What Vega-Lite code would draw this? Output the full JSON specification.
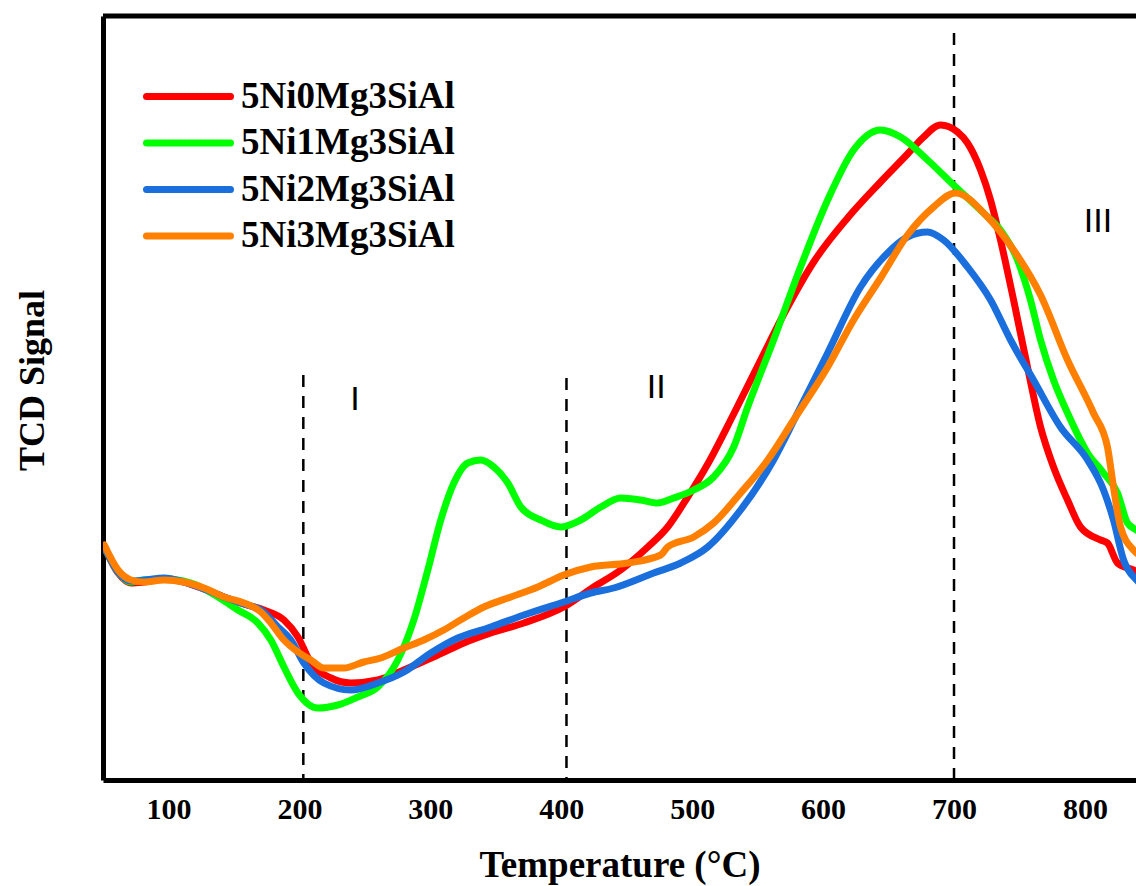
{
  "$schema": "https://vega.github.io/schema/vega-lite/v6.json",
  "width": 1033,
  "height": 764,
  "autosize": {"type": "none"},
  "padding": {"left": 103, "top": 16, "right": 0, "bottom": 106},
  "background": "white",
  "config": {"view": {"stroke": null}, "axis": {"grid": false}},
  "datasets": {
    "tpr": [
      {"sample": "5Ni0Mg3SiAl", "temperature": 51, "signal": 233},
      {"sample": "5Ni0Mg3SiAl", "temperature": 61.5, "signal": 207},
      {"sample": "5Ni0Mg3SiAl", "temperature": 71.4, "signal": 197},
      {"sample": "5Ni0Mg3SiAl", "temperature": 81.3, "signal": 198},
      {"sample": "5Ni0Mg3SiAl", "temperature": 96.6, "signal": 201},
      {"sample": "5Ni0Mg3SiAl", "temperature": 111.8, "signal": 198},
      {"sample": "5Ni0Mg3SiAl", "temperature": 127.1, "signal": 191},
      {"sample": "5Ni0Mg3SiAl", "temperature": 142.4, "signal": 183},
      {"sample": "5Ni0Mg3SiAl", "temperature": 157.6, "signal": 176},
      {"sample": "5Ni0Mg3SiAl", "temperature": 172.9, "signal": 170},
      {"sample": "5Ni0Mg3SiAl", "temperature": 188.2, "signal": 160},
      {"sample": "5Ni0Mg3SiAl", "temperature": 198.9, "signal": 143},
      {"sample": "5Ni0Mg3SiAl", "temperature": 208.8, "signal": 117},
      {"sample": "5Ni0Mg3SiAl", "temperature": 224.1, "signal": 102},
      {"sample": "5Ni0Mg3SiAl", "temperature": 239.3, "signal": 97},
      {"sample": "5Ni0Mg3SiAl", "temperature": 259.9, "signal": 100},
      {"sample": "5Ni0Mg3SiAl", "temperature": 279.8, "signal": 110},
      {"sample": "5Ni0Mg3SiAl", "temperature": 305.7, "signal": 125},
      {"sample": "5Ni0Mg3SiAl", "temperature": 325.6, "signal": 137},
      {"sample": "5Ni0Mg3SiAl", "temperature": 346.2, "signal": 147},
      {"sample": "5Ni0Mg3SiAl", "temperature": 371.4, "signal": 157},
      {"sample": "5Ni0Mg3SiAl", "temperature": 401.9, "signal": 173},
      {"sample": "5Ni0Mg3SiAl", "temperature": 424.8, "signal": 193},
      {"sample": "5Ni0Mg3SiAl", "temperature": 445.4, "signal": 210},
      {"sample": "5Ni0Mg3SiAl", "temperature": 466.1, "signal": 233},
      {"sample": "5Ni0Mg3SiAl", "temperature": 481.3, "signal": 253},
      {"sample": "5Ni0Mg3SiAl", "temperature": 496.6, "signal": 283},
      {"sample": "5Ni0Mg3SiAl", "temperature": 511.9, "signal": 316},
      {"sample": "5Ni0Mg3SiAl", "temperature": 531.7, "signal": 366},
      {"sample": "5Ni0Mg3SiAl", "temperature": 552.3, "signal": 420},
      {"sample": "5Ni0Mg3SiAl", "temperature": 572.9, "signal": 473},
      {"sample": "5Ni0Mg3SiAl", "temperature": 592.8, "signal": 518},
      {"sample": "5Ni0Mg3SiAl", "temperature": 618.7, "signal": 562},
      {"sample": "5Ni0Mg3SiAl", "temperature": 643.9, "signal": 598},
      {"sample": "5Ni0Mg3SiAl", "temperature": 664.5, "signal": 626},
      {"sample": "5Ni0Mg3SiAl", "temperature": 676, "signal": 642},
      {"sample": "5Ni0Mg3SiAl", "temperature": 689.7, "signal": 655},
      {"sample": "5Ni0Mg3SiAl", "temperature": 702.7, "signal": 648},
      {"sample": "5Ni0Mg3SiAl", "temperature": 710.3, "signal": 637},
      {"sample": "5Ni0Mg3SiAl", "temperature": 720.3, "signal": 610},
      {"sample": "5Ni0Mg3SiAl", "temperature": 727.9, "signal": 580},
      {"sample": "5Ni0Mg3SiAl", "temperature": 735.5, "signal": 540},
      {"sample": "5Ni0Mg3SiAl", "temperature": 745.5, "signal": 480},
      {"sample": "5Ni0Mg3SiAl", "temperature": 756.1, "signal": 413},
      {"sample": "5Ni0Mg3SiAl", "temperature": 766.1, "signal": 353},
      {"sample": "5Ni0Mg3SiAl", "temperature": 776, "signal": 313},
      {"sample": "5Ni0Mg3SiAl", "temperature": 786.7, "signal": 280},
      {"sample": "5Ni0Mg3SiAl", "temperature": 796.6, "signal": 253},
      {"sample": "5Ni0Mg3SiAl", "temperature": 811.9, "signal": 240},
      {"sample": "5Ni0Mg3SiAl", "temperature": 817.2, "signal": 237},
      {"sample": "5Ni0Mg3SiAl", "temperature": 824.9, "signal": 217},
      {"sample": "5Ni0Mg3SiAl", "temperature": 837.1, "signal": 210},
      {"sample": "5Ni0Mg3SiAl", "temperature": 845, "signal": 205},

      {"sample": "5Ni1Mg3SiAl", "temperature": 51, "signal": 233},
      {"sample": "5Ni1Mg3SiAl", "temperature": 61.5, "signal": 208},
      {"sample": "5Ni1Mg3SiAl", "temperature": 71.4, "signal": 198},
      {"sample": "5Ni1Mg3SiAl", "temperature": 81.3, "signal": 200},
      {"sample": "5Ni1Mg3SiAl", "temperature": 96.6, "signal": 201},
      {"sample": "5Ni1Mg3SiAl", "temperature": 117.2, "signal": 197},
      {"sample": "5Ni1Mg3SiAl", "temperature": 137.8, "signal": 183},
      {"sample": "5Ni1Mg3SiAl", "temperature": 153.1, "signal": 170},
      {"sample": "5Ni1Mg3SiAl", "temperature": 168.3, "signal": 157},
      {"sample": "5Ni1Mg3SiAl", "temperature": 178.2, "signal": 140},
      {"sample": "5Ni1Mg3SiAl", "temperature": 188.2, "signal": 113},
      {"sample": "5Ni1Mg3SiAl", "temperature": 198.9, "signal": 87},
      {"sample": "5Ni1Mg3SiAl", "temperature": 214.1, "signal": 72},
      {"sample": "5Ni1Mg3SiAl", "temperature": 229.4, "signal": 75},
      {"sample": "5Ni1Mg3SiAl", "temperature": 244.7, "signal": 83},
      {"sample": "5Ni1Mg3SiAl", "temperature": 259.9, "signal": 93},
      {"sample": "5Ni1Mg3SiAl", "temperature": 275.2, "signal": 120},
      {"sample": "5Ni1Mg3SiAl", "temperature": 287.4, "signal": 160},
      {"sample": "5Ni1Mg3SiAl", "temperature": 298.1, "signal": 210},
      {"sample": "5Ni1Mg3SiAl", "temperature": 308, "signal": 260},
      {"sample": "5Ni1Mg3SiAl", "temperature": 318, "signal": 297},
      {"sample": "5Ni1Mg3SiAl", "temperature": 328.6, "signal": 317},
      {"sample": "5Ni1Mg3SiAl", "temperature": 338.6, "signal": 320},
      {"sample": "5Ni1Mg3SiAl", "temperature": 348.5, "signal": 313},
      {"sample": "5Ni1Mg3SiAl", "temperature": 359.2, "signal": 297},
      {"sample": "5Ni1Mg3SiAl", "temperature": 369.1, "signal": 273},
      {"sample": "5Ni1Mg3SiAl", "temperature": 384.4, "signal": 260},
      {"sample": "5Ni1Mg3SiAl", "temperature": 399.6, "signal": 253},
      {"sample": "5Ni1Mg3SiAl", "temperature": 414.9, "signal": 260},
      {"sample": "5Ni1Mg3SiAl", "temperature": 430.2, "signal": 273},
      {"sample": "5Ni1Mg3SiAl", "temperature": 445.4, "signal": 282},
      {"sample": "5Ni1Mg3SiAl", "temperature": 460.7, "signal": 280},
      {"sample": "5Ni1Mg3SiAl", "temperature": 473.7, "signal": 277},
      {"sample": "5Ni1Mg3SiAl", "temperature": 485.9, "signal": 282},
      {"sample": "5Ni1Mg3SiAl", "temperature": 501.2, "signal": 290},
      {"sample": "5Ni1Mg3SiAl", "temperature": 516.4, "signal": 303},
      {"sample": "5Ni1Mg3SiAl", "temperature": 531.7, "signal": 333},
      {"sample": "5Ni1Mg3SiAl", "temperature": 542.4, "signal": 373},
      {"sample": "5Ni1Mg3SiAl", "temperature": 562.2, "signal": 440},
      {"sample": "5Ni1Mg3SiAl", "temperature": 582.8, "signal": 513},
      {"sample": "5Ni1Mg3SiAl", "temperature": 603.5, "signal": 580},
      {"sample": "5Ni1Mg3SiAl", "temperature": 623.3, "signal": 630},
      {"sample": "5Ni1Mg3SiAl", "temperature": 643.9, "signal": 650},
      {"sample": "5Ni1Mg3SiAl", "temperature": 659.2, "signal": 643},
      {"sample": "5Ni1Mg3SiAl", "temperature": 679.8, "signal": 620},
      {"sample": "5Ni1Mg3SiAl", "temperature": 699.7, "signal": 595},
      {"sample": "5Ni1Mg3SiAl", "temperature": 722.5, "signal": 567},
      {"sample": "5Ni1Mg3SiAl", "temperature": 735.5, "signal": 550},
      {"sample": "5Ni1Mg3SiAl", "temperature": 748.5, "signal": 520},
      {"sample": "5Ni1Mg3SiAl", "temperature": 758.4, "signal": 480},
      {"sample": "5Ni1Mg3SiAl", "temperature": 766.1, "signal": 440},
      {"sample": "5Ni1Mg3SiAl", "temperature": 776, "signal": 400},
      {"sample": "5Ni1Mg3SiAl", "temperature": 786.7, "signal": 367},
      {"sample": "5Ni1Mg3SiAl", "temperature": 802, "signal": 327},
      {"sample": "5Ni1Mg3SiAl", "temperature": 814.2, "signal": 307},
      {"sample": "5Ni1Mg3SiAl", "temperature": 824.9, "signal": 287},
      {"sample": "5Ni1Mg3SiAl", "temperature": 832.5, "signal": 257},
      {"sample": "5Ni1Mg3SiAl", "temperature": 839.4, "signal": 250},
      {"sample": "5Ni1Mg3SiAl", "temperature": 845, "signal": 246},

      {"sample": "5Ni2Mg3SiAl", "temperature": 51, "signal": 233},
      {"sample": "5Ni2Mg3SiAl", "temperature": 61.5, "signal": 208},
      {"sample": "5Ni2Mg3SiAl", "temperature": 71.4, "signal": 199},
      {"sample": "5Ni2Mg3SiAl", "temperature": 81.3, "signal": 200},
      {"sample": "5Ni2Mg3SiAl", "temperature": 96.6, "signal": 202},
      {"sample": "5Ni2Mg3SiAl", "temperature": 111.8, "signal": 198},
      {"sample": "5Ni2Mg3SiAl", "temperature": 127.1, "signal": 191},
      {"sample": "5Ni2Mg3SiAl", "temperature": 142.4, "signal": 183},
      {"sample": "5Ni2Mg3SiAl", "temperature": 157.6, "signal": 176},
      {"sample": "5Ni2Mg3SiAl", "temperature": 170.6, "signal": 170},
      {"sample": "5Ni2Mg3SiAl", "temperature": 183.6, "signal": 153},
      {"sample": "5Ni2Mg3SiAl", "temperature": 193.5, "signal": 140},
      {"sample": "5Ni2Mg3SiAl", "temperature": 203.4, "signal": 117},
      {"sample": "5Ni2Mg3SiAl", "temperature": 218.7, "signal": 97},
      {"sample": "5Ni2Mg3SiAl", "temperature": 239.3, "signal": 90},
      {"sample": "5Ni2Mg3SiAl", "temperature": 259.9, "signal": 97},
      {"sample": "5Ni2Mg3SiAl", "temperature": 279.8, "signal": 108},
      {"sample": "5Ni2Mg3SiAl", "temperature": 300.4, "signal": 127},
      {"sample": "5Ni2Mg3SiAl", "temperature": 321, "signal": 142},
      {"sample": "5Ni2Mg3SiAl", "temperature": 346.2, "signal": 153},
      {"sample": "5Ni2Mg3SiAl", "temperature": 371.4, "signal": 165},
      {"sample": "5Ni2Mg3SiAl", "temperature": 401.9, "signal": 178},
      {"sample": "5Ni2Mg3SiAl", "temperature": 422.5, "signal": 187},
      {"sample": "5Ni2Mg3SiAl", "temperature": 440.1, "signal": 192},
      {"sample": "5Ni2Mg3SiAl", "temperature": 470.6, "signal": 207},
      {"sample": "5Ni2Mg3SiAl", "temperature": 491.3, "signal": 217},
      {"sample": "5Ni2Mg3SiAl", "temperature": 511.9, "signal": 233},
      {"sample": "5Ni2Mg3SiAl", "temperature": 537, "signal": 270},
      {"sample": "5Ni2Mg3SiAl", "temperature": 562.2, "signal": 320},
      {"sample": "5Ni2Mg3SiAl", "temperature": 582.8, "signal": 373},
      {"sample": "5Ni2Mg3SiAl", "temperature": 603.5, "signal": 427},
      {"sample": "5Ni2Mg3SiAl", "temperature": 628.6, "signal": 493},
      {"sample": "5Ni2Mg3SiAl", "temperature": 649.3, "signal": 527},
      {"sample": "5Ni2Mg3SiAl", "temperature": 664.5, "signal": 543},
      {"sample": "5Ni2Mg3SiAl", "temperature": 679.8, "signal": 548},
      {"sample": "5Ni2Mg3SiAl", "temperature": 692, "signal": 540},
      {"sample": "5Ni2Mg3SiAl", "temperature": 710.3, "signal": 513},
      {"sample": "5Ni2Mg3SiAl", "temperature": 727.9, "signal": 480},
      {"sample": "5Ni2Mg3SiAl", "temperature": 743.2, "signal": 440},
      {"sample": "5Ni2Mg3SiAl", "temperature": 760.7, "signal": 400},
      {"sample": "5Ni2Mg3SiAl", "temperature": 781.3, "signal": 353},
      {"sample": "5Ni2Mg3SiAl", "temperature": 802, "signal": 320},
      {"sample": "5Ni2Mg3SiAl", "temperature": 814.2, "signal": 290},
      {"sample": "5Ni2Mg3SiAl", "temperature": 821.8, "signal": 260},
      {"sample": "5Ni2Mg3SiAl", "temperature": 829.5, "signal": 220},
      {"sample": "5Ni2Mg3SiAl", "temperature": 839.4, "signal": 200},
      {"sample": "5Ni2Mg3SiAl", "temperature": 845, "signal": 193},

      {"sample": "5Ni3Mg3SiAl", "temperature": 51, "signal": 235},
      {"sample": "5Ni3Mg3SiAl", "temperature": 61.5, "signal": 210},
      {"sample": "5Ni3Mg3SiAl", "temperature": 71.4, "signal": 200},
      {"sample": "5Ni3Mg3SiAl", "temperature": 81.3, "signal": 198},
      {"sample": "5Ni3Mg3SiAl", "temperature": 96.6, "signal": 200},
      {"sample": "5Ni3Mg3SiAl", "temperature": 111.8, "signal": 198},
      {"sample": "5Ni3Mg3SiAl", "temperature": 127.1, "signal": 192},
      {"sample": "5Ni3Mg3SiAl", "temperature": 142.4, "signal": 183},
      {"sample": "5Ni3Mg3SiAl", "temperature": 157.6, "signal": 177},
      {"sample": "5Ni3Mg3SiAl", "temperature": 170.6, "signal": 168},
      {"sample": "5Ni3Mg3SiAl", "temperature": 178.2, "signal": 157},
      {"sample": "5Ni3Mg3SiAl", "temperature": 188.2, "signal": 140},
      {"sample": "5Ni3Mg3SiAl", "temperature": 198.9, "signal": 128},
      {"sample": "5Ni3Mg3SiAl", "temperature": 208.8, "signal": 120},
      {"sample": "5Ni3Mg3SiAl", "temperature": 218.7, "signal": 112},
      {"sample": "5Ni3Mg3SiAl", "temperature": 234, "signal": 112},
      {"sample": "5Ni3Mg3SiAl", "temperature": 249.2, "signal": 118},
      {"sample": "5Ni3Mg3SiAl", "temperature": 262.2, "signal": 122},
      {"sample": "5Ni3Mg3SiAl", "temperature": 279.8, "signal": 132},
      {"sample": "5Ni3Mg3SiAl", "temperature": 295, "signal": 140},
      {"sample": "5Ni3Mg3SiAl", "temperature": 310.3, "signal": 150},
      {"sample": "5Ni3Mg3SiAl", "temperature": 325.6, "signal": 162},
      {"sample": "5Ni3Mg3SiAl", "temperature": 340.9, "signal": 173},
      {"sample": "5Ni3Mg3SiAl", "temperature": 361.5, "signal": 183},
      {"sample": "5Ni3Mg3SiAl", "temperature": 382.1, "signal": 193},
      {"sample": "5Ni3Mg3SiAl", "temperature": 401.9, "signal": 205},
      {"sample": "5Ni3Mg3SiAl", "temperature": 422.5, "signal": 213},
      {"sample": "5Ni3Mg3SiAl", "temperature": 450.8, "signal": 217},
      {"sample": "5Ni3Mg3SiAl", "temperature": 476, "signal": 225},
      {"sample": "5Ni3Mg3SiAl", "temperature": 481.3, "signal": 233},
      {"sample": "5Ni3Mg3SiAl", "temperature": 501.2, "signal": 243},
      {"sample": "5Ni3Mg3SiAl", "temperature": 516.4, "signal": 257},
      {"sample": "5Ni3Mg3SiAl", "temperature": 537, "signal": 287},
      {"sample": "5Ni3Mg3SiAl", "temperature": 557.7, "signal": 320},
      {"sample": "5Ni3Mg3SiAl", "temperature": 577.5, "signal": 360},
      {"sample": "5Ni3Mg3SiAl", "temperature": 603.5, "signal": 413},
      {"sample": "5Ni3Mg3SiAl", "temperature": 623.3, "signal": 460},
      {"sample": "5Ni3Mg3SiAl", "temperature": 643.9, "signal": 502},
      {"sample": "5Ni3Mg3SiAl", "temperature": 664.5, "signal": 545},
      {"sample": "5Ni3Mg3SiAl", "temperature": 684.4, "signal": 573},
      {"sample": "5Ni3Mg3SiAl", "temperature": 701, "signal": 587},
      {"sample": "5Ni3Mg3SiAl", "temperature": 725.6, "signal": 563},
      {"sample": "5Ni3Mg3SiAl", "temperature": 745.5, "signal": 530},
      {"sample": "5Ni3Mg3SiAl", "temperature": 766.1, "signal": 485},
      {"sample": "5Ni3Mg3SiAl", "temperature": 786.7, "signal": 420},
      {"sample": "5Ni3Mg3SiAl", "temperature": 806.5, "signal": 367},
      {"sample": "5Ni3Mg3SiAl", "temperature": 817.2, "signal": 333},
      {"sample": "5Ni3Mg3SiAl", "temperature": 821.8, "signal": 293},
      {"sample": "5Ni3Mg3SiAl", "temperature": 827.2, "signal": 253},
      {"sample": "5Ni3Mg3SiAl", "temperature": 837.1, "signal": 230},
      {"sample": "5Ni3Mg3SiAl", "temperature": 845, "signal": 222}
    ],
    "regions": [
      {"temperature": 203, "top": 405},
      {"temperature": 404, "top": 402},
      {"temperature": 700, "top": 747}
    ],
    "labels": [
      {"text": "I", "temperature": 242.5, "signal": 380},
      {"text": "II", "temperature": 472.5, "signal": 392},
      {"text": "III", "temperature": 810, "signal": 558}
    ]
  },
  "layer": [
    {
      "data": {"name": "regions"},
      "mark": {"type": "rule", "stroke": "black", "strokeWidth": 2.5, "strokeDash": [12, 9]},
      "encoding": {
        "x": {"field": "temperature", "type": "quantitative"},
        "y": {"field": "top", "type": "quantitative"},
        "y2": {"datum": 0}
      }
    },
    {
      "data": {"name": "tpr"},
      "mark": {"type": "line", "strokeWidth": 7, "interpolate": "monotone", "clip": true, "strokeJoin": "round", "strokeCap": "round"},
      "encoding": {
        "x": {
          "field": "temperature", "type": "quantitative",
          "scale": {"domain": [50, 839], "nice": false, "zero": false},
          "axis": {
            "values": [100, 200, 300, 400, 500, 600, 700, 800],
            "title": "Temperature (°C)",
            "domainColor": "black", "domainWidth": 5,
            "ticks": false, "tickSize": 0,
            "labelFont": "Liberation Serif", "labelFontWeight": "bold", "labelFontSize": 30, "labelColor": "black",
            "labelPadding": 14,
            "titleFont": "Liberation Serif", "titleFontWeight": "bold", "titleFontSize": 37, "titleColor": "black",
            "titlePadding": 23
          }
        },
        "y": {
          "field": "signal", "type": "quantitative",
          "scale": {"domain": [0, 764], "nice": false, "zero": false},
          "axis": {
            "title": "TCD Signal",
            "domainColor": "black", "domainWidth": 5,
            "ticks": false, "tickSize": 0, "labels": false,
            "titleFont": "Liberation Serif", "titleFontWeight": "bold", "titleFontSize": 36, "titleColor": "black",
            "titlePadding": 52, "titleY": 364
          }
        },
        "color": {
          "field": "sample", "type": "nominal",
          "scale": {
            "domain": ["5Ni0Mg3SiAl", "5Ni1Mg3SiAl", "5Ni2Mg3SiAl", "5Ni3Mg3SiAl"],
            "range": ["#ff0000", "#00ff00", "#1b6fdd", "#ff8000"]
          },
          "legend": {
            "orient": "none", "legendX": 67, "legendY": 62,
            "title": null, "padding": 0,
            "symbolType": "M-3,0H3", "symbolSize": 784, "symbolStrokeWidth": 7,
            "labelFont": "Liberation Serif", "labelFontWeight": "bold", "labelFontSize": 37, "labelColor": "black",
            "labelOffset": 34, "rowPadding": 8.5, "labelLimit": 400,
            "encode": {"symbols": {"update": {"strokeCap": {"value": "round"}}}}
          }
        }
      }
    },
    {
      "data": {"name": "labels"},
      "mark": {"type": "text", "font": "Liberation Sans", "fontSize": 34, "color": "black", "baseline": "middle", "align": "center"},
      "encoding": {
        "x": {"field": "temperature", "type": "quantitative"},
        "y": {"field": "signal", "type": "quantitative"},
        "text": {"field": "text"}
      }
    },
    {
      "data": {"values": [{}]},
      "mark": {"type": "rule", "stroke": "black", "strokeWidth": 5},
      "encoding": {"y": {"datum": 764}}
    }
  ]
}
